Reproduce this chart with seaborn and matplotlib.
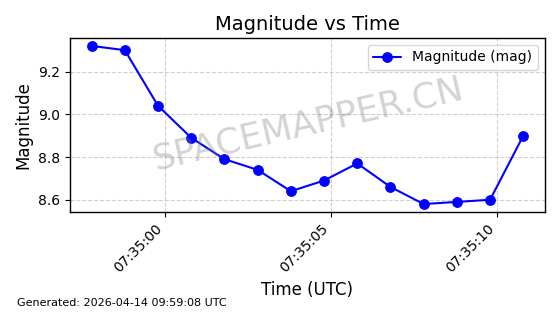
import matplotlib
matplotlib.use("Agg")
import matplotlib.pyplot as plt
import matplotlib.dates as mdates
import seaborn as sns
import pandas as pd

start_time = "2026-04-14 07:34:57.8"
n_points = 14
magnitudes = [9.32, 9.30, 9.04, 8.89, 8.79, 8.74, 8.64, 8.69, 8.77, 8.66, 8.58, 8.59, 8.60, 8.90]
times = pd.date_range(start=start_time, periods=n_points, freq="1s")

df = pd.DataFrame({"time": times, "mag": magnitudes})

sns.set_style("white", rc={"text.color": "black", "axes.labelcolor": "black",
                           "xtick.color": "black", "ytick.color": "black",
                           "axes.edgecolor": "black", "grid.color": "#b0b0b0"})
plt.rcParams['font.family'] = ['DejaVu Sans']

fig, ax = plt.subplots(figsize=(5.6, 3.14), dpi=100)
sns.lineplot(data=df, x="time", y="mag", ax=ax, color="blue", marker="o",
             markersize=7, markeredgecolor="blue", linewidth=1.5,
             label="Magnitude (mag)")

ax.xaxis.set_major_locator(mdates.SecondLocator(bysecond=range(0, 60, 5)))
ax.xaxis.set_major_formatter(mdates.DateFormatter("%H:%M:%S"))
for lbl in ax.get_xticklabels():
    lbl.set_rotation(45)
    lbl.set_ha("right")
ax.tick_params(axis="both", labelsize=10, length=3.5, width=0.8,
               bottom=True, left=True, colors="black")
ax.set_yticks([8.6, 8.8, 9.0, 9.2])

ax.grid(True, linestyle="--", alpha=0.6, color="#b0b0b0", linewidth=0.8)
for sp in ax.spines.values():
    sp.set_color("black")
    sp.set_linewidth(1.0)

ax.set_title("Magnitude vs Time", fontsize=14, color="black")
ax.set_xlabel("Time (UTC)", fontsize=12, color="black")
ax.set_ylabel("Magnitude", fontsize=12, color="black")
leg = ax.legend(loc="upper right", fontsize=10)
for t in leg.get_texts():
    t.set_color("black")

fig.text(0.55, 0.605, "SPACEMAPPER.CN", fontsize=25.5, color="gray", alpha=0.35,
         rotation=13, ha="center", va="center")
fig.text(0.03, 0.025, "Generated: 2026-04-14 09:59:08 UTC", fontsize=8, color="black")

fig.subplots_adjust(left=0.125, right=0.973, top=0.879, bottom=0.325)
fig.savefig("out.png", dpi=100)
